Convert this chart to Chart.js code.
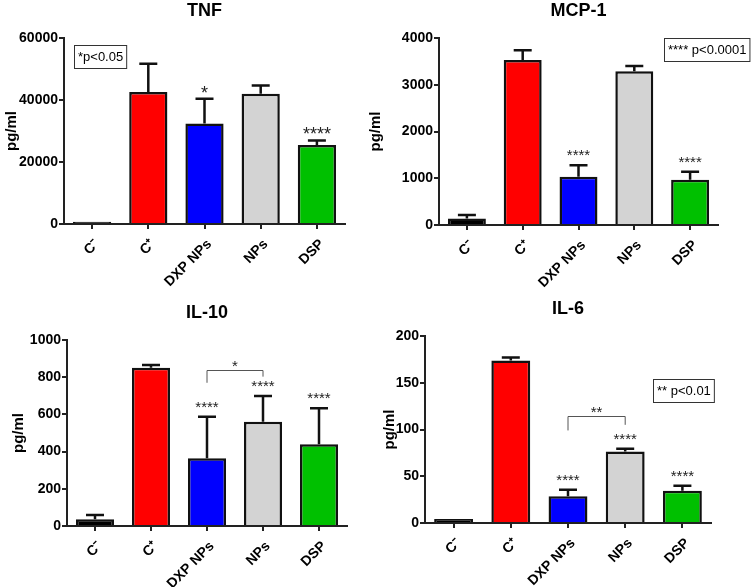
<!DOCTYPE html>
<html>
<head>
<meta charset="utf-8">
<script src="https://cdn.jsdelivr.net/npm/chart.js@4/dist/chart.umd.min.js"></script>
<style>
  body { margin: 0; background: #fff; }
  #page { position: relative; width: 752px; height: 587px; overflow: hidden; }
  #page canvas { position: absolute; }
</style>
</head>
<body>
<div id="page">
  <canvas id="chartTNF"></canvas>
  <canvas id="chartMCP"></canvas>
  <canvas id="chartIL10"></canvas>
  <canvas id="chartIL6"></canvas>
</div>
<script>
// groups and colours shared by all four panels
const categories = ['C\u207B', 'C\u207A', 'DXP NPs', 'NPs', 'DSP'];
const barColors = ['#000000', '#ff0000', '#0000ff', '#d3d3d3', '#00c000'];

// TNF (pg/ml), mean and upper error
const tnfMeans = [700, 42600, 32400, 42000, 25500];
const tnfErrors = [0, 9100, 8000, 2700, 1400];
const tnfStars = ['', '', '*', '', '****'];
const tnfTicks = [0, 20000, 40000, 60000];

// MCP-1
const mcpMeans = [140, 3530, 1030, 3290, 970];
const mcpErrors = [75, 210, 250, 110, 170];
const mcpStars = ['', '', '****', '', '****'];
const mcpTicks = [0, 1000, 2000, 3000, 4000];

// IL-10
const il10Means = [36, 851, 364, 561, 439];
const il10Errors = [23, 14, 224, 138, 194];
const il10Stars = ['', '', '****', '****', '****'];
const il10Ticks = [0, 200, 400, 600, 800, 1000];

// IL-6
const il6Means = [4.3, 173.7, 28.5, 76.5, 34.5];
const il6Errors = [0, 3.2, 7.1, 2.9, 5.4];
const il6Stars = ['', '', '****', '****', '****'];
const il6Ticks = [0, 50, 100, 150, 200];

const FONT = '"Liberation Sans", Arial, sans-serif';
Chart.defaults.font.family = FONT;
Chart.defaults.color = '#000';

// error bars, significance stars, brackets and p-value box
function makeMarks(p) {
  return {
    id: 'marks',
    afterDatasetsDraw(chart) {
      const ctx = chart.ctx;
      const ys = chart.scales.y;
      const meta = chart.getDatasetMeta(0);
      const area = chart.chartArea;
      ctx.save();
      ctx.strokeStyle = '#111';
      ctx.lineWidth = 2.5;
      meta.data.forEach((bar, i) => {
        if (!p.errors[i]) return;
        const yTop = ys.getPixelForValue(p.means[i] + p.errors[i]);
        const yMean = ys.getPixelForValue(p.means[i]);
        ctx.beginPath();
        ctx.moveTo(bar.x, yMean);
        ctx.lineTo(bar.x, yTop);
        ctx.moveTo(bar.x - 9, yTop);
        ctx.lineTo(bar.x + 9, yTop);
        ctx.stroke();
      });
      // stars over bars
      ctx.fillStyle = '#222';
      ctx.textAlign = 'center';
      ctx.textBaseline = 'alphabetic';
      ctx.font = p.starSize + 'px ' + FONT;
      meta.data.forEach((bar, i) => {
        if (!p.stars[i]) return;
        const yTop = ys.getPixelForValue(p.means[i] + p.errors[i]);
        ctx.fillText(p.stars[i], bar.x, yTop - p.starGap + 0.6 * p.starSize);
      });
      // comparison bracket
      if (p.bracket) {
        const b = p.bracket;
        const x1 = meta.data[b.from].x, x2 = meta.data[b.to].x;
        const yl = Math.round(ys.getPixelForValue(b.level)) + 0.5;
        ctx.strokeStyle = '#555';
        ctx.lineWidth = 1;
        ctx.beginPath();
        ctx.moveTo(x1, ys.getPixelForValue(b.leftEnd));
        ctx.lineTo(x1, yl);
        ctx.lineTo(x2, yl);
        ctx.lineTo(x2, ys.getPixelForValue(b.rightEnd));
        ctx.stroke();
        ctx.font = '15px ' + FONT;
        ctx.fillText(b.label, (x1 + x2) / 2, yl - 9 + 0.6 * 15);
      }
      // p-value box
      if (p.box) {
        ctx.font = '13px ' + FONT;
        const w = ctx.measureText(p.box.text).width + 7;
        const bx = Math.round(area.left + p.box.dx) + 0.5;
        const by = Math.round(area.top + p.box.dy) + 0.5;
        ctx.strokeStyle = '#333';
        ctx.lineWidth = 1;
        ctx.strokeRect(bx, by, w, 23);
        ctx.fillStyle = '#000';
        ctx.textAlign = 'left';
        ctx.textBaseline = 'middle';
        ctx.fillText(p.box.text, bx + 3.5, by + 12);
      }
      ctx.restore();
    }
  };
}

function drawPanel(p) {
  const cv = document.getElementById(p.id);
  cv.width = p.w; cv.height = p.h;
  cv.style.left = p.x + 'px';
  cv.style.top = p.y + 'px';
  cv.style.width = p.w + 'px';
  cv.style.height = p.h + 'px';
  const titleTop = p.top - 27 - 10.8;
  new Chart(cv.getContext('2d'), {
    type: 'bar',
    data: {
      labels: categories,
      datasets: [{
        data: p.means,
        backgroundColor: barColors,
        borderColor: '#111',
        borderWidth: 2.5,
        barPercentage: 0.68,
        categoryPercentage: 1
      }]
    },
    options: {
      responsive: false,
      animation: false,
      layout: { padding: { left: 0, right: p.w - p.right, top: 0, bottom: 0 } },
      plugins: {
        legend: { display: false },
        tooltip: { enabled: false },
        title: {
          display: true,
          text: p.title,
          fullSize: false,
          color: '#000',
          font: { size: 18, weight: 'bold' },
          padding: { top: titleTop, bottom: p.top - titleTop - 21.6 }
        }
      },
      scales: {
        x: {
          afterFit: s => { s.height = p.h - p.bottom; },
          grid: { display: true, offset: false, drawOnChartArea: false, drawTicks: true, tickLength: 5, color: '#222', lineWidth: 2 },
          border: { display: true, color: '#222', width: 2 },
          ticks: { autoSkip: false, minRotation: 45, maxRotation: 45, padding: 7, labelOffset: 5, color: '#000', font: { size: 14, weight: 'bold' } }
        },
        y: {
          min: 0,
          max: p.ticks[p.ticks.length - 1],
          afterFit: s => { s.width = p.left; },
          afterBuildTicks: s => { s.ticks = p.ticks.map(v => ({ value: v })); },
          grid: { display: true, drawOnChartArea: false, drawTicks: true, tickLength: 5, color: '#222', lineWidth: 2 },
          border: { display: true, color: '#222', width: 2 },
          ticks: { padding: 1, color: '#000', font: { size: 14, weight: 'bold' }, callback: v => String(v) },
          title: {
            display: true,
            text: 'pg/ml',
            color: '#000',
            font: { size: 15, weight: 'bold' },
            padding: { top: p.yTitleX - 9, bottom: 0 }
          }
        }
      }
    },
    plugins: [makeMarks(p)]
  });
}

drawPanel({
  id: 'chartTNF', title: 'TNF', x: 0, y: 0, w: 360, h: 290,
  left: 64, right: 345, top: 38, bottom: 224, yTitleX: 12,
  means: tnfMeans, errors: tnfErrors, stars: tnfStars, ticks: tnfTicks,
  starSize: 18, starGap: 11,
  box: { text: '*p<0.05', dx: 10, dy: 7 }
});

drawPanel({
  id: 'chartMCP', title: 'MCP-1', x: 360, y: 0, w: 392, h: 290,
  left: 79, right: 358, top: 38, bottom: 225, yTitleX: 16,
  means: mcpMeans, errors: mcpErrors, stars: mcpStars, ticks: mcpTicks,
  starSize: 15, starGap: 14,
  box: { text: '**** p<0.0001', dx: 225, dy: 0 }
});

drawPanel({
  id: 'chartIL10', title: 'IL-10', x: 0, y: 290, w: 360, h: 297,
  left: 67, right: 347, top: 50, bottom: 236, yTitleX: 19,
  means: il10Means, errors: il10Errors, stars: il10Stars, ticks: il10Ticks,
  starSize: 15, starGap: 14,
  bracket: { from: 2, to: 3, level: 839, leftEnd: 770, rightEnd: 803, label: '*' }
});

drawPanel({
  id: 'chartIL6', title: 'IL-6', x: 360, y: 290, w: 392, h: 297,
  left: 65, right: 351, top: 46, bottom: 233, yTitleX: 30,
  means: il6Means, errors: il6Errors, stars: il6Stars, ticks: il6Ticks,
  starSize: 15, starGap: 14,
  bracket: { from: 2, to: 3, level: 114.6, leftEnd: 99, rightEnd: 105, label: '**' },
  box: { text: '** p<0.01', dx: 228, dy: 43 }
});
</script>
</body>
</html>
